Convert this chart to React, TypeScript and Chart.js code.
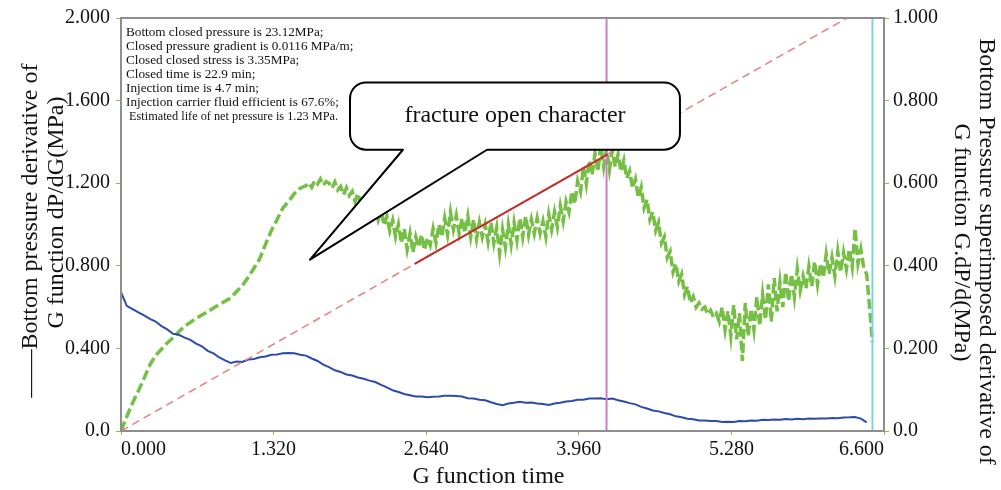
import { useEffect, useRef } from 'react';
import { Chart, registerables } from 'chart.js';

Chart.register(...registerables);

// ---------- data ----------
const BLUE_STEP = 0.05; // sampling step of G function time for dP/dG

// Bottom pressure derivative dP/dG (left axis, MPa), G = 0.00 .. 6.45
const pressureDerivative = [
  0.672, 0.606, 0.590, 0.574, 0.560, 0.543, 0.530, 0.508, 0.492, 0.471,
  0.466, 0.452, 0.441, 0.423, 0.410, 0.388, 0.376, 0.356, 0.342, 0.329,
  0.336, 0.334, 0.346, 0.349, 0.357, 0.361, 0.369, 0.371, 0.377, 0.378,
  0.376, 0.369, 0.365, 0.351, 0.339, 0.321, 0.309, 0.294, 0.286, 0.274,
  0.269, 0.259, 0.253, 0.244, 0.237, 0.223, 0.211, 0.197, 0.189, 0.179,
  0.173, 0.167, 0.167, 0.163, 0.166, 0.167, 0.171, 0.171, 0.169, 0.167,
  0.159, 0.157, 0.151, 0.149, 0.139, 0.131, 0.125, 0.133, 0.137, 0.141,
  0.137, 0.138, 0.133, 0.131, 0.126, 0.133, 0.137, 0.143, 0.145, 0.151,
  0.151, 0.157, 0.157, 0.159, 0.154, 0.157, 0.149, 0.143, 0.135, 0.129,
  0.117, 0.109, 0.099, 0.095, 0.087, 0.081, 0.071, 0.067, 0.059, 0.057,
  0.051, 0.051, 0.048, 0.048, 0.044, 0.045, 0.044, 0.048, 0.047, 0.051,
  0.050, 0.054, 0.053, 0.056, 0.055, 0.058, 0.056, 0.059, 0.057, 0.060,
  0.059, 0.061, 0.060, 0.063, 0.062, 0.065, 0.066, 0.068, 0.060, 0.042,
];

// Superimposed derivative G.dP/dG (right axis, MPa)
// smooth early part: G = 0.00 .. 1.55, step 0.05
const SMOOTH_STEP = 0.05;
const superimposedEarly = [
  0.000, 0.035, 0.068, 0.097, 0.128, 0.160, 0.183, 0.198, 0.213, 0.226,
  0.240, 0.254, 0.263, 0.273, 0.281, 0.289, 0.298, 0.306, 0.314, 0.322,
  0.338, 0.352, 0.372, 0.394, 0.417, 0.452, 0.485, 0.512, 0.540, 0.556,
  0.575, 0.588,
];
// noisy part: G = 1.600 .. 6.500, step 0.025
const NOISY_START = 1.6;
const NOISY_STEP = 0.025;
const superimposedNoisy = [
  0.594, 0.601, 0.590, 0.606, 0.598, 0.610, 0.595, 0.604,
  0.600, 0.588, 0.603, 0.584, 0.592, 0.572, 0.589, 0.570,
  0.580, 0.556, 0.575, 0.548, 0.562, 0.530, 0.551, 0.526,
  0.545, 0.512, 0.535, 0.498, 0.520, 0.484, 0.510, 0.470,
  0.500, 0.455, 0.490, 0.440, 0.478, 0.432, 0.470, 0.445,
  0.475, 0.438, 0.468, 0.450, 0.490, 0.455, 0.500, 0.470,
  0.515, 0.475, 0.530, 0.488, 0.522, 0.478, 0.515, 0.480,
  0.520, 0.470, 0.512, 0.465, 0.505, 0.470, 0.500, 0.458,
  0.505, 0.455, 0.492, 0.430, 0.488, 0.445, 0.500, 0.452,
  0.505, 0.462, 0.515, 0.470, 0.520, 0.475, 0.512, 0.478,
  0.515, 0.478, 0.508, 0.470, 0.525, 0.488, 0.530, 0.494,
  0.545, 0.508, 0.555, 0.530, 0.580, 0.550, 0.605, 0.580,
  0.640, 0.598, 0.655, 0.620, 0.672, 0.628, 0.690, 0.640,
  0.685, 0.632, 0.680, 0.640, 0.670, 0.628, 0.655, 0.612,
  0.630, 0.588, 0.610, 0.565, 0.590, 0.540, 0.560, 0.512,
  0.530, 0.485, 0.505, 0.455, 0.470, 0.420, 0.435, 0.385,
  0.405, 0.362, 0.380, 0.330, 0.350, 0.310, 0.325, 0.300,
  0.310, 0.295, 0.300, 0.282, 0.292, 0.276, 0.285, 0.265,
  0.300, 0.245, 0.290, 0.230, 0.305, 0.222, 0.285, 0.170,
  0.310, 0.230, 0.295, 0.245, 0.325, 0.255, 0.330, 0.270,
  0.355, 0.265, 0.370, 0.290, 0.360, 0.300, 0.385, 0.315,
  0.380, 0.325, 0.392, 0.340, 0.375, 0.345, 0.398, 0.350,
  0.410, 0.355, 0.405, 0.372, 0.428, 0.380, 0.420, 0.375,
  0.435, 0.385, 0.432, 0.392, 0.440, 0.398, 0.490, 0.405,
  0.440, 0.395, 0.380, 0.300, 0.215,
];

// straight reference line through the origin (left axis units)
const fitLineG = [0, 6.28];
const fitLineP = [0, 2.0];
// solid part of the line (fracture open section)
const fitSolidG = [2.54, 4.21];
const fitSolidP = [0.809, 1.34];

const closureG = 4.2; // magenta vertical line
const endG = 6.5; // cyan vertical line

const xTicks = [0, 1.32, 2.64, 3.96, 5.28, 6.6];
const leftTicks = [0, 0.4, 0.8, 1.2, 1.6, 2.0];
const rightTicks = [0, 0.2, 0.4, 0.6, 0.8, 1.0];

const infoLines = [
  'Bottom closed pressure is 23.12MPa;',
  'Closed pressure gradient is 0.0116 MPa/m;',
  'Closed closed stress is 3.35MPa;',
  'Closed time is 22.9 min;',
  'Injection time is 4.7 min;',
  'Injection carrier fluid efficient is 67.6%;',
  ' Estimated life of net pressure is 1.23 MPa.',
];

const calloutText = 'fracture open character';
const xTitle = 'G function time';
const leftTitle = ['——Bottom pressure derivative of', 'G function dP/dG(MPa)'];
const rightTitle = ['Bottom Pressure superimposed derivative of', 'G function G.dP/d(MPa)'];

// callout placement in data units (G, left-axis value)
const calloutBox = { g0: 1.981, g1: 4.835, p0: 1.362, p1: 1.688 };
const calloutTailBase = [2.439, 3.166];
const calloutTip = { g: 1.635, p: 0.83 };
const calloutLabel = { g: 3.408, p: 1.525 };

// ---------- styles ----------
const SERIF = '"Liberation Serif", "Times New Roman", serif';
const TICK_GREEN = '#7ac943';
const TEXT = '#111111';

const fmt = (v: number) => (v === 0 ? '0.0' : v.toFixed(3));

const decorPlugin = {
  id: 'decor',
  afterDraw(chart: any) {
    const { ctx, chartArea: a, scales } = chart;
    const x = scales.x;
    const y = scales.y;
    ctx.save();

    // plot frame
    ctx.strokeStyle = '#8e8e8e';
    ctx.lineWidth = 2;
    ctx.strokeRect(a.left, a.top, a.right - a.left, a.bottom - a.top);

    // callout geometry
    const L = x.getPixelForValue(calloutBox.g0);
    const R = x.getPixelForValue(calloutBox.g1);
    const T = y.getPixelForValue(calloutBox.p1);
    const B = y.getPixelForValue(calloutBox.p0);

    // info text
    ctx.fillStyle = TEXT;
    ctx.font = `13.2px ${SERIF}`;
    ctx.textAlign = 'left';
    ctx.textBaseline = 'middle';
    const textLeft = a.left + 5;
    infoLines.forEach((t, i) => {
      const last = i === infoLines.length - 1;
      if (last) ctx.fillText(t, textLeft, a.top + 15 + i * 14, L - 12 - textLeft);
      else ctx.fillText(t, textLeft, a.top + 15 + i * 14);
    });

    // callout bubble
    const r = 16;
    const b0 = x.getPixelForValue(calloutTailBase[0]);
    const b1 = x.getPixelForValue(calloutTailBase[1]);
    const tx = x.getPixelForValue(calloutTip.g);
    const ty = y.getPixelForValue(calloutTip.p);
    ctx.beginPath();
    ctx.moveTo(L + r, T);
    ctx.lineTo(R - r, T);
    ctx.arcTo(R, T, R, T + r, r);
    ctx.lineTo(R, B - r);
    ctx.arcTo(R, B, R - r, B, r);
    ctx.lineTo(b1, B);
    ctx.lineTo(tx, ty);
    ctx.lineTo(b0, B);
    ctx.lineTo(L + r, B);
    ctx.arcTo(L, B, L, B - r, r);
    ctx.lineTo(L, T + r);
    ctx.arcTo(L, T, L + r, T, r);
    ctx.closePath();
    ctx.fillStyle = '#ffffff';
    ctx.fill();
    ctx.strokeStyle = '#000000';
    ctx.lineWidth = 2;
    ctx.lineJoin = 'round';
    ctx.stroke();
    ctx.fillStyle = TEXT;
    ctx.font = `24px ${SERIF}`;
    ctx.textAlign = 'center';
    ctx.fillText(calloutText, x.getPixelForValue(calloutLabel.g), y.getPixelForValue(calloutLabel.p));

    // axis titles
    ctx.font = `24px ${SERIF}`;
    ctx.textAlign = 'center';
    ctx.textBaseline = 'middle';
    ctx.fillText(xTitle, (a.left + a.right) / 2 - 14, a.bottom + 46);

    const midY = (a.top + a.bottom) / 2;
    const leftX = [a.left - 90, a.left - 64];
    const leftDY = [6, -12];
    leftTitle.forEach((t, i) => {
      ctx.save();
      ctx.translate(leftX[i], midY + leftDY[i]);
      ctx.rotate(-Math.PI / 2);
      ctx.fillText(t, 0, 0);
      ctx.restore();
    });
    const rightX = [a.right + 102, a.right + 77];
    const rightDY = [27, 18];
    rightTitle.forEach((t, i) => {
      ctx.save();
      ctx.translate(rightX[i], midY + rightDY[i]);
      ctx.rotate(Math.PI / 2);
      ctx.fillText(t, 0, 0);
      ctx.restore();
    });
    ctx.restore();
  },
};

export default function App() {
  const ref = useRef<HTMLCanvasElement>(null);

  useEffect(() => {
    document.body.style.margin = '0';
    const canvas = ref.current;
    if (!canvas) return;
    const r3 = (v: number) => Math.round(v * 1000) / 1000;
    const series = (arr: number[], start: number, step: number) =>
      arr.map((v, i) => ({ x: r3(start + i * step), y: v }));
    const pair = (gs: number[], ps: number[]) => gs.map((g, i) => ({ x: g, y: ps[i] }));
    const tickFont = { family: SERIF, size: 20 };
    const greenData = [
      ...series(superimposedEarly, 0, SMOOTH_STEP),
      ...series(superimposedNoisy, NOISY_START, NOISY_STEP),
    ];

    const chart = new Chart(canvas, {
      type: 'line',
      data: {
        datasets: [
          {
            label: 'fit solid',
            data: pair(fitSolidG, fitSolidP),
            yAxisID: 'y',
            borderColor: '#c62a2a',
            borderWidth: 2,
            order: 1,
          },
          {
            label: 'fit dashed',
            data: pair(fitLineG, fitLineP),
            yAxisID: 'y',
            borderColor: '#e2837f',
            borderWidth: 1.5,
            borderDash: [8, 5],
            order: 2,
          },
          {
            label: 'closure',
            data: pair([closureG, closureG], [0, 2]),
            yAxisID: 'y',
            borderColor: '#d07ccd',
            borderWidth: 2,
            order: 3,
          },
          {
            label: 'end',
            data: pair([endG, endG], [0, 2]),
            yAxisID: 'y',
            borderColor: '#7dd3e6',
            borderWidth: 2,
            order: 3,
          },
          {
            label: 'dP/dG',
            data: series(pressureDerivative, 0, BLUE_STEP),
            yAxisID: 'y',
            borderColor: '#2d4ca8',
            borderWidth: 2,
            order: 4,
          },
          {
            label: 'G.dP/dG',
            data: greenData,
            yAxisID: 'y1',
            borderColor: '#74bf44',
            borderWidth: 3.5,
            borderDash: [10, 4],
            order: 5,
          },
        ],
      },
      options: {
        responsive: false,
        animation: false,
        devicePixelRatio: 1,
        layout: { padding: { top: 14, left: 0, right: 0, bottom: 0 } },
        plugins: { legend: { display: false }, tooltip: { enabled: false } },
        elements: { point: { radius: 0 }, line: { tension: 0 } },
        scales: {
          x: {
            type: 'linear',
            min: 0,
            max: 6.6,
            afterBuildTicks: (s: any) => {
              s.ticks = xTicks.map((v) => ({ value: v }));
            },
            afterFit: (s: any) => {
              s.height = 59;
            },
            ticks: {
              align: 'inner',
              autoSkip: false,
              maxRotation: 0,
              padding: 3,
              color: TEXT,
              font: tickFont,
              callback: (v: any) => Number(v).toFixed(3),
            },
            grid: { drawOnChartArea: false, tickLength: 4, tickColor: TICK_GREEN },
            border: { display: false },
          },
          y: {
            type: 'linear',
            position: 'left',
            min: 0,
            max: 2,
            afterBuildTicks: (s: any) => {
              s.ticks = leftTicks.map((v) => ({ value: v }));
            },
            afterFit: (s: any) => {
              s.width = 121;
            },
            ticks: { padding: 6, color: TEXT, font: tickFont, callback: (v: any) => fmt(Number(v)) },
            grid: { drawOnChartArea: false, tickLength: 5, tickColor: TICK_GREEN },
            border: { display: false },
          },
          y1: {
            type: 'linear',
            position: 'right',
            min: 0,
            max: 1,
            afterBuildTicks: (s: any) => {
              s.ticks = rightTicks.map((v) => ({ value: v }));
            },
            afterFit: (s: any) => {
              s.width = 117;
            },
            ticks: { padding: 4, color: TEXT, font: tickFont, callback: (v: any) => fmt(Number(v)) },
            grid: { drawOnChartArea: false, tickLength: 5, tickColor: TICK_GREEN },
            border: { display: false },
          },
        },
      },
      plugins: [decorPlugin],
    } as any);

    return () => chart.destroy();
  }, []);

  return (
    <div style={{ width: 1001, height: 490, background: '#ffffff' }}>
      <canvas ref={ref} width={1001} height={490} style={{ display: 'block' }} />
    </div>
  );
}
